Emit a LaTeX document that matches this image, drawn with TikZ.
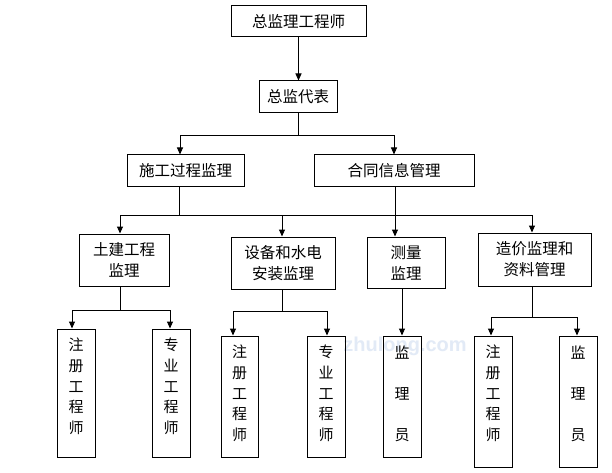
\documentclass[tikz,border=0pt]{standalone}
\usepackage{fontspec}
\setmainfont{Noto Sans CJK SC}
\newfontfamily\wmfont{Liberation Sans}
\usetikzlibrary{arrows.meta}
\definecolor{wmcol}{RGB}{226,234,246}
\begin{document}
\begin{tikzpicture}[x=1pt,y=-1pt,
  box/.style={draw, line width=1pt, inner sep=0pt, rectangle},
  txt/.style={font=\fontsize{15.5}{21}\selectfont, align=center},
  vtxt/.style={font=\fontsize{15}{20.75}\selectfont, align=center, inner sep=0pt},
  vtxtw/.style={font=\fontsize{15}{41}\selectfont, align=center, inner sep=0pt},
  arr/.style={line width=1pt, -{Triangle[length=7pt,width=6pt]}},
  ln/.style={line width=1pt}]
\useasboundingbox[fill=white] (0,0) rectangle (612,473);

% watermark
\node[font=\wmfont\bfseries\fontsize{20}{20}\selectfont, text=wmcol] (wm) at (405,346) {zhulong.com};

% level 1-3
\node[box, txt, minimum width=135pt, minimum height=31pt] (A) at (298.5,21.5) {总监理工程师};
\node[box, txt, minimum width=78pt, minimum height=32pt] (B) at (298,97) {总监代表};
\node[box, txt, minimum width=117pt, minimum height=31pt] (C) at (185.5,170.5) {施工过程监理};
\node[box, txt, minimum width=160pt, minimum height=31pt] (D) at (394,170.5) {合同信息管理};

% level 4
\node[box, txt, minimum width=90pt, minimum height=52pt] (E) at (124,260) {土建工程\\监理};
\node[box, txt, minimum width=104pt, minimum height=52pt] (F) at (283,263) {设备和水电\\安装监理};
\node[box, txt, minimum width=78pt, minimum height=51pt] (G) at (406,262.5) {测量\\监理};
\node[box, txt, minimum width=113pt, minimum height=53pt] (H) at (534.5,259.5) {造价监理和\\资料管理};

% level 5 boxes
\node[box, minimum width=38pt, minimum height=128pt] (I1) at (76,393) {};
\node[box, minimum width=38pt, minimum height=128pt] (I2) at (171,393) {};
\node[box, minimum width=37pt, minimum height=121pt] (J1) at (239.5,396.5) {};
\node[box, minimum width=38pt, minimum height=121pt] (J2) at (326,396.5) {};
\node[box, minimum width=38pt, minimum height=121pt] (K) at (402,396.5) {};
\node[box, minimum width=38pt, minimum height=131pt] (L1) at (493,401.5) {};
\node[box, minimum width=38pt, minimum height=131pt] (L2) at (578,401.5) {};

% level 5 texts
\node[vtxt] (I1t) at (76,386.5) {注\\册\\工\\程\\师};
\node[vtxt] (I2t) at (171,386.5) {专\\业\\工\\程\\师};
\node[vtxt] (J1t) at (239.5,393.5) {注\\册\\工\\程\\师};
\node[vtxt] (J2t) at (326,393.5) {专\\业\\工\\程\\师};
\node[vtxtw] (Kt) at (402,394) {监\\理\\员};
\node[vtxt] (L1t) at (493,393.5) {注\\册\\工\\程\\师};
\node[vtxtw] (L2t) at (578,394) {监\\理\\员};

% connectors level 1-3
\draw[arr] (A.south) -- (A.south |- B.north);
\coordinate (bl) at (180,136);
\coordinate (br) at (394,136);
\draw[arr] (B.south) |- (bl) -- (bl |- C.north);
\draw[arr] (B.south) |- (br) -- (br |- D.north);

% connectors level 3-4
\coordinate (c1) at (179,215);
\coordinate (e1) at (120,215);
\coordinate (f1) at (282,215);
\coordinate (g1) at (395,215);
\coordinate (h1) at (532,215);
\draw[ln] (C.south -| c1) -- (c1);
\draw[ln] (e1) -- (h1);
\draw[arr] (e1) -- (e1 |- E.north);
\draw[arr] (f1) -- (f1 |- F.north);
\draw[arr] (D.south -| g1) -- (g1 |- G.north);
\draw[arr] (h1) -- (h1 |- H.north);

% connectors level 4-5
\coordinate (e2) at (120,310);
\coordinate (e2l) at (72,310);
\coordinate (e2r) at (170,310);
\draw[ln] (E.south -| e2) -- (e2);
\draw[arr] (e2) -- (e2l) -- (e2l |- I1.north);
\draw[arr] (e2) -- (e2r) -- (e2r |- I2.north);

\coordinate (f2) at (282,311);
\coordinate (f2l) at (233,311);
\coordinate (f2r) at (327,311);
\draw[ln] (F.south -| f2) -- (f2);
\draw[arr] (f2) -- (f2l) -- (f2l |- J1.north);
\draw[arr] (f2) -- (f2r) -- (f2r |- J2.north);

\coordinate (g2) at (402,300);
\draw[arr] (G.south -| g2) -- (g2 |- K.north);

\coordinate (h2) at (532,317);
\coordinate (h2l) at (491,317);
\coordinate (h2r) at (577,317);
\draw[ln] (H.south -| h2) -- (h2);
\draw[arr] (h2) -- (h2l) -- (h2l |- L1.north);
\draw[arr] (h2) -- (h2r) -- (h2r |- L2.north);
\end{tikzpicture}
\end{document}
